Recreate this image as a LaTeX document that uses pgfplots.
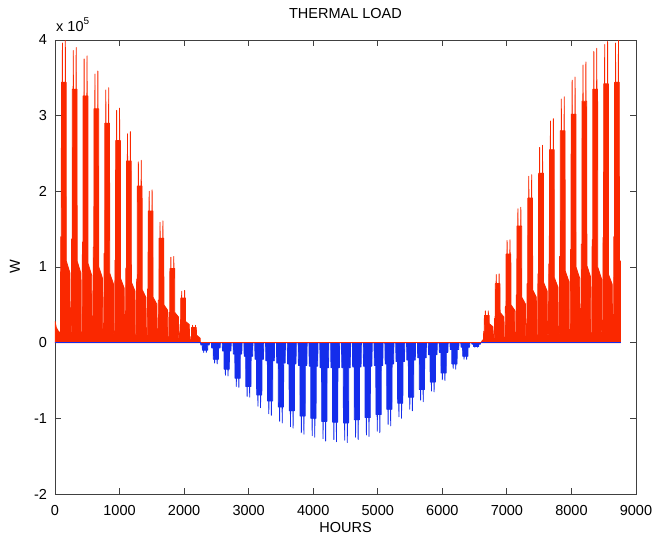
\documentclass[border=0pt]{standalone}
\usepackage{fontspec}
\setmainfont{Liberation Sans}
\usepackage{pgfplots}
\pgfplotsset{compat=1.18}
\definecolor{mred}{RGB}{250,40,0}
\definecolor{mblue}{RGB}{20,45,235}
\begin{document}
\fontsize{14.5}{17}\selectfont
\begin{tikzpicture}
\useasboundingbox (-55pt,-47pt) rectangle (599pt,494pt);
\begin{axis}[
  at={(0,0)}, anchor=south west,
  scale only axis, width=581pt, height=454pt,
  xmin=0, xmax=9000, ymin=-2, ymax=4,
  xtick={0,1000,2000,3000,4000,5000,6000,7000,8000,9000},
  xticklabels={0,1000,2000,3000,4000,5000,6000,7000,8000,9000},
  ytick={-2,-1,0,1,2,3,4}, yticklabels={-2,-1,0,1,2,3,4},
  tick align=inside, major tick length=6pt,
  axis line style={black!75, line width=0.8pt},
  every tick/.style={black!75, line width=0.8pt},
  xticklabel style={yshift=-6pt},
  yticklabel style={xshift=-3pt},
  title={THERMAL LOAD}, title style={at={(0.5,1)}, anchor=base, yshift=16pt},
  xlabel={HOURS}, xlabel style={at={(0.5,0)}, anchor=base, yshift=-39pt},
  ylabel={W}, ylabel style={at={(-0.069,0.5)}, anchor=center},
]
% heating, January to April
\addplot[draw=mred, fill=mred, line width=0.8pt, line join=round] coordinates {
(0,0) (2,0.28) (20,0.20) (60,0.14)
(85,0.14) (89,1.40) (98,1.40) (100,3.44) (113,3.44) (115,3.96) (117,3.44) (158,3.44) (160,4.00) (162,3.44) (173,3.44) (175,1.08) (232,0.92) (236,0.14)
(253,0.14) (257,1.37) (266,1.37) (268,3.35) (281,3.35) (283,3.86) (285,3.35) (326,3.35) (328,3.90) (330,3.35) (341,3.35) (343,1.08) (400,0.92) (404,0.14)
(421,0.14) (425,1.33) (434,1.33) (436,3.26) (449,3.26) (451,3.75) (453,3.26) (494,3.26) (496,3.79) (498,3.26) (509,3.26) (511,1.05) (568,0.89) (572,0.14)
(589,0.13) (593,1.26) (602,1.26) (604,3.09) (617,3.09) (619,3.55) (621,3.09) (662,3.09) (664,3.59) (666,3.09) (677,3.09) (679,1.00) (736,0.85) (740,0.13)
(757,0.13) (761,1.18) (770,1.18) (772,2.90) (785,2.90) (787,3.34) (789,2.90) (830,2.90) (832,3.37) (834,2.90) (845,2.90) (847,0.92) (904,0.78) (908,0.12)
(925,0.12) (929,1.09) (938,1.09) (940,2.67) (953,2.67) (955,3.07) (957,2.67) (998,2.67) (1000,3.10) (1002,2.67) (1013,2.67) (1015,0.85) (1072,0.72) (1076,0.12)
(1093,0.12) (1097,0.98) (1106,0.98) (1108,2.40) (1121,2.40) (1123,2.76) (1125,2.40) (1166,2.40) (1168,2.79) (1170,2.40) (1181,2.40) (1183,0.80) (1240,0.68) (1244,0.11)
(1261,0.11) (1265,0.84) (1274,0.84) (1276,2.07) (1289,2.07) (1291,2.39) (1293,2.07) (1334,2.07) (1336,2.41) (1338,2.07) (1349,2.07) (1351,0.70) (1408,0.60) (1412,0.10)
(1429,0.10) (1433,0.71) (1442,0.71) (1444,1.74) (1457,1.74) (1459,2.00) (1461,1.74) (1502,1.74) (1504,2.02) (1506,1.74) (1517,1.74) (1519,0.60) (1576,0.51) (1580,0.09)
(1597,0.09) (1601,0.56) (1610,0.56) (1612,1.38) (1625,1.38) (1627,1.59) (1629,1.38) (1670,1.38) (1672,1.61) (1674,1.38) (1685,1.38) (1687,0.50) (1744,0.43) (1748,0.08)
(1765,0.07) (1769,0.40) (1778,0.40) (1780,0.98) (1793,0.98) (1795,1.13) (1797,0.98) (1838,0.98) (1840,1.14) (1842,0.98) (1853,0.98) (1855,0.40) (1912,0.34) (1916,0.06)
(1933,0.05) (1937,0.24) (1946,0.24) (1948,0.59) (1961,0.59) (1963,0.68) (1965,0.59) (2006,0.59) (2008,0.69) (2010,0.59) (2021,0.59) (2023,0.28) (2080,0.24) (2084,0.04)
(2101,0.03) (2105,0.08) (2114,0.08) (2116,0.20) (2129,0.20) (2131,0.23) (2133,0.20) (2174,0.20) (2176,0.23) (2178,0.20) (2189,0.20) (2191,0.10) (2248,0.06) (2252,0) (2260,0)
} \closedcycle;
% heating, October to December
\addplot[draw=mred, fill=mred, line width=0.8pt, line join=round] coordinates {
(6600,0) (6620,0.03)
(6637,0.04) (6641,0.15) (6650,0.15) (6652,0.36) (6665,0.36) (6667,0.42) (6669,0.36) (6710,0.36) (6712,0.42) (6714,0.36) (6725,0.36) (6727,0.25) (6784,0.21) (6788,0.05)
(6805,0.06) (6809,0.32) (6818,0.32) (6820,0.78) (6833,0.78) (6835,0.90) (6837,0.78) (6878,0.78) (6880,0.91) (6882,0.78) (6893,0.78) (6895,0.40) (6952,0.34) (6956,0.07)
(6973,0.07) (6977,0.48) (6986,0.48) (6988,1.17) (7001,1.17) (7003,1.35) (7005,1.17) (7046,1.17) (7048,1.36) (7050,1.17) (7061,1.17) (7063,0.50) (7120,0.43) (7124,0.08)
(7141,0.08) (7145,0.63) (7154,0.63) (7156,1.54) (7169,1.54) (7171,1.77) (7173,1.54) (7214,1.54) (7216,1.79) (7218,1.54) (7229,1.54) (7231,0.60) (7288,0.51) (7292,0.09)
(7309,0.09) (7313,0.78) (7322,0.78) (7324,1.91) (7337,1.91) (7339,2.20) (7341,1.91) (7382,1.91) (7384,2.22) (7386,1.91) (7397,1.91) (7399,0.70) (7456,0.60) (7460,0.10)
(7477,0.10) (7481,0.91) (7490,0.91) (7492,2.24) (7505,2.24) (7507,2.58) (7509,2.24) (7550,2.24) (7552,2.61) (7554,2.24) (7565,2.24) (7567,0.80) (7624,0.68) (7628,0.11)
(7645,0.11) (7649,1.04) (7658,1.04) (7660,2.55) (7673,2.55) (7675,2.93) (7677,2.55) (7718,2.55) (7720,2.96) (7722,2.55) (7733,2.55) (7735,0.86) (7792,0.73) (7796,0.12)
(7813,0.12) (7817,1.14) (7826,1.14) (7828,2.80) (7841,2.80) (7843,3.22) (7845,2.80) (7886,2.80) (7888,3.25) (7890,2.80) (7901,2.80) (7903,0.95) (7960,0.81) (7964,0.12)
(7981,0.12) (7985,1.23) (7994,1.23) (7996,3.02) (8009,3.02) (8011,3.47) (8013,3.02) (8054,3.02) (8056,3.51) (8058,3.02) (8069,3.02) (8071,1.00) (8128,0.85) (8132,0.13)
(8149,0.13) (8153,1.30) (8162,1.30) (8164,3.19) (8177,3.19) (8179,3.67) (8181,3.19) (8222,3.19) (8224,3.71) (8226,3.19) (8237,3.19) (8239,1.02) (8296,0.87) (8300,0.13)
(8317,0.13) (8321,1.36) (8330,1.36) (8332,3.35) (8345,3.35) (8347,3.85) (8349,3.35) (8390,3.35) (8392,3.89) (8394,3.35) (8405,3.35) (8407,1.00) (8464,0.85) (8468,0.14)
(8485,0.14) (8489,1.39) (8498,1.39) (8500,3.42) (8513,3.42) (8515,3.94) (8517,3.42) (8558,3.42) (8560,3.98) (8562,3.42) (8573,3.42) (8575,0.90) (8632,0.77) (8636,0.14)
(8653,0.14) (8657,1.40) (8666,1.40) (8668,3.44) (8681,3.44) (8683,3.96) (8685,3.44) (8726,3.44) (8728,4.00) (8730,3.44) (8741,3.44) (8743,1.08) (8760,1.08) (8760,0)
} \closedcycle;
% cooling
\addplot[draw=mblue, fill=mblue, line width=0.8pt, line join=round] coordinates {
(2254,0) (2259,-0.03) (2282,-0.03) (2284,-0.10) (2302,-0.10) (2304,-0.13) (2306,-0.10) (2342,-0.10) (2344,-0.13) (2346,-0.10) (2364,-0.10) (2366,-0.03) (2389,-0.03) (2394,0)
(2422,0) (2427,-0.07) (2450,-0.07) (2452,-0.22) (2470,-0.22) (2472,-0.27) (2474,-0.22) (2510,-0.22) (2512,-0.28) (2514,-0.22) (2532,-0.22) (2534,-0.07) (2557,-0.07) (2562,0)
(2590,0) (2595,-0.11) (2618,-0.11) (2620,-0.35) (2638,-0.35) (2640,-0.43) (2642,-0.35) (2678,-0.35) (2680,-0.44) (2682,-0.35) (2700,-0.35) (2702,-0.11) (2725,-0.11) (2730,0)
(2758,0) (2763,-0.15) (2786,-0.15) (2788,-0.47) (2806,-0.47) (2808,-0.58) (2810,-0.47) (2846,-0.47) (2848,-0.59) (2850,-0.47) (2868,-0.47) (2870,-0.15) (2893,-0.15) (2898,0)
(2926,0) (2931,-0.18) (2954,-0.18) (2956,-0.58) (2974,-0.58) (2976,-0.71) (2978,-0.58) (3014,-0.58) (3016,-0.72) (3018,-0.58) (3036,-0.58) (3038,-0.18) (3061,-0.18) (3066,0)
(3094,0) (3099,-0.22) (3122,-0.22) (3124,-0.69) (3142,-0.69) (3144,-0.84) (3146,-0.69) (3182,-0.69) (3184,-0.86) (3186,-0.69) (3204,-0.69) (3206,-0.22) (3229,-0.22) (3234,0)
(3262,0) (3267,-0.24) (3290,-0.24) (3292,-0.77) (3310,-0.77) (3312,-0.94) (3314,-0.77) (3350,-0.77) (3352,-0.96) (3354,-0.77) (3372,-0.77) (3374,-0.24) (3397,-0.24) (3402,0)
(3430,0) (3435,-0.27) (3458,-0.27) (3460,-0.85) (3478,-0.85) (3480,-1.04) (3482,-0.85) (3518,-0.85) (3520,-1.06) (3522,-0.85) (3540,-0.85) (3542,-0.27) (3565,-0.27) (3570,0)
(3598,0) (3603,-0.28) (3626,-0.28) (3628,-0.90) (3646,-0.90) (3648,-1.11) (3650,-0.90) (3686,-0.90) (3688,-1.13) (3690,-0.90) (3708,-0.90) (3710,-0.28) (3733,-0.28) (3738,0)
(3766,0) (3771,-0.30) (3794,-0.30) (3796,-0.97) (3814,-0.97) (3816,-1.19) (3818,-0.97) (3854,-0.97) (3856,-1.21) (3858,-0.97) (3876,-0.97) (3878,-0.30) (3901,-0.30) (3906,0)
(3934,0) (3939,-0.31) (3962,-0.31) (3964,-1.00) (3982,-1.00) (3984,-1.23) (3986,-1.00) (4022,-1.00) (4024,-1.25) (4026,-1.00) (4044,-1.00) (4046,-0.31) (4069,-0.31) (4074,0)
(4102,0) (4107,-0.33) (4130,-0.33) (4132,-1.04) (4150,-1.04) (4152,-1.27) (4154,-1.04) (4190,-1.04) (4192,-1.30) (4194,-1.04) (4212,-1.04) (4214,-0.33) (4237,-0.33) (4242,0)
(4270,0) (4275,-0.33) (4298,-0.33) (4300,-1.05) (4318,-1.05) (4320,-1.28) (4322,-1.05) (4358,-1.05) (4360,-1.31) (4362,-1.05) (4380,-1.05) (4382,-0.33) (4405,-0.33) (4410,0)
(4438,0) (4443,-0.33) (4466,-0.33) (4468,-1.06) (4486,-1.06) (4488,-1.29) (4490,-1.06) (4526,-1.06) (4528,-1.32) (4530,-1.06) (4548,-1.06) (4550,-0.33) (4573,-0.33) (4578,0)
(4606,0) (4611,-0.32) (4634,-0.32) (4636,-1.02) (4654,-1.02) (4656,-1.25) (4658,-1.02) (4694,-1.02) (4696,-1.28) (4698,-1.02) (4716,-1.02) (4718,-0.32) (4741,-0.32) (4746,0)
(4774,0) (4779,-0.31) (4802,-0.31) (4804,-0.99) (4822,-0.99) (4824,-1.22) (4826,-0.99) (4862,-0.99) (4864,-1.24) (4866,-0.99) (4884,-0.99) (4886,-0.31) (4909,-0.31) (4914,0)
(4942,0) (4947,-0.30) (4970,-0.30) (4972,-0.95) (4990,-0.95) (4992,-1.17) (4994,-0.95) (5030,-0.95) (5032,-1.19) (5034,-0.95) (5052,-0.95) (5054,-0.30) (5077,-0.30) (5082,0)
(5110,0) (5115,-0.28) (5138,-0.28) (5140,-0.88) (5158,-0.88) (5160,-1.08) (5162,-0.88) (5198,-0.88) (5200,-1.10) (5202,-0.88) (5220,-0.88) (5222,-0.28) (5245,-0.28) (5250,0)
(5278,0) (5283,-0.25) (5306,-0.25) (5308,-0.80) (5326,-0.80) (5328,-0.98) (5330,-0.80) (5366,-0.80) (5368,-1.00) (5370,-0.80) (5388,-0.80) (5390,-0.25) (5413,-0.25) (5418,0)
(5446,0) (5451,-0.23) (5474,-0.23) (5476,-0.72) (5494,-0.72) (5496,-0.88) (5498,-0.72) (5534,-0.72) (5536,-0.90) (5538,-0.72) (5556,-0.72) (5558,-0.23) (5581,-0.23) (5586,0)
(5614,0) (5619,-0.20) (5642,-0.20) (5644,-0.62) (5662,-0.62) (5664,-0.76) (5666,-0.62) (5702,-0.62) (5704,-0.78) (5706,-0.62) (5724,-0.62) (5726,-0.20) (5749,-0.20) (5754,0)
(5782,0) (5787,-0.16) (5810,-0.16) (5812,-0.52) (5830,-0.52) (5832,-0.64) (5834,-0.52) (5870,-0.52) (5872,-0.65) (5874,-0.52) (5892,-0.52) (5894,-0.16) (5917,-0.16) (5922,0)
(5950,0) (5955,-0.13) (5978,-0.13) (5980,-0.40) (5998,-0.40) (6000,-0.49) (6002,-0.40) (6038,-0.40) (6040,-0.50) (6042,-0.40) (6060,-0.40) (6062,-0.13) (6085,-0.13) (6090,0)
(6118,0) (6123,-0.09) (6146,-0.09) (6148,-0.28) (6166,-0.28) (6168,-0.34) (6170,-0.28) (6206,-0.28) (6208,-0.35) (6210,-0.28) (6228,-0.28) (6230,-0.09) (6253,-0.09) (6258,0)
(6286,0) (6291,-0.06) (6314,-0.06) (6316,-0.18) (6334,-0.18) (6336,-0.22) (6338,-0.18) (6374,-0.18) (6376,-0.22) (6378,-0.18) (6396,-0.18) (6398,-0.06) (6421,-0.06) (6426,0)
(6454,0) (6459,-0.02) (6482,-0.02) (6484,-0.05) (6502,-0.05) (6504,-0.06) (6506,-0.05) (6542,-0.05) (6544,-0.06) (6546,-0.05) (6564,-0.05) (6566,-0.02) (6589,-0.02) (6594,0)
} \closedcycle;
\addplot[mblue, line width=0.8pt] coordinates {(0,0) (8760,0)};
\addplot[mred, line width=0.6pt] coordinates {(2260,0) (6600,0)};
\end{axis}
\node[anchor=base west, inner sep=0pt] at (1pt,462pt) {x 10\raisebox{7pt}{\fontsize{10}{10}\selectfont 5}};
\end{tikzpicture}
\end{document}
